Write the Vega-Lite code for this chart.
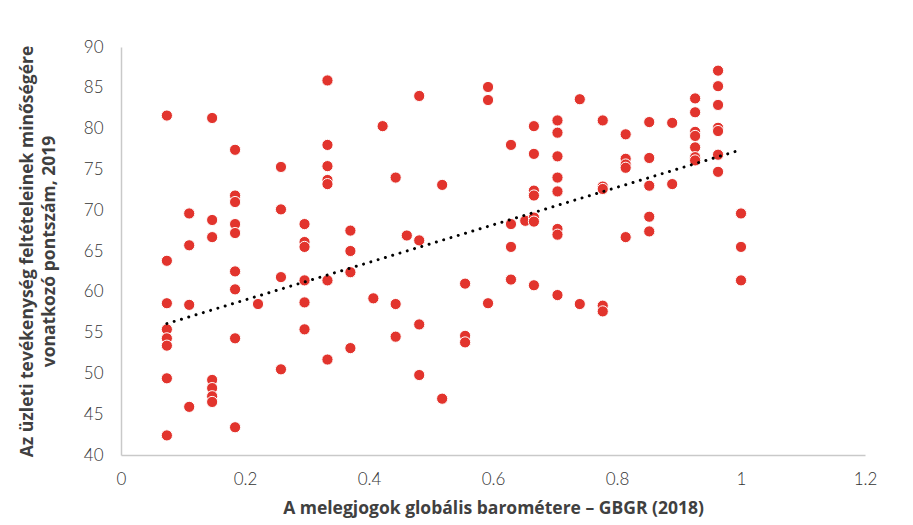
{
  "$schema": "https://vega.github.io/schema/vega-lite/v6.json",
  "autosize": {"type": "none"},
  "width": 744,
  "height": 408,
  "padding": {"left": 121, "top": 47, "right": 48, "bottom": 70},
  "background": "white",
  "config": {
    "view": {"stroke": null},
    "axis": {
      "grid": false,
      "ticks": false,
      "domainColor": "#c9c9c9",
      "domainWidth": 1.5,
      "labelFont": "Lato",
      "labelFontWeight": 300,
      "labelFontSize": 17,
      "labelColor": "#333333",
      "titleFont": "Open Sans",
      "titleFontWeight": "bold",
      "titleFontSize": 17.5,
      "titleColor": "#404040"
    }
  },
  "datasets": {
    "points": [
      {"x": 0.074, "y": 81.6}, {"x": 0.074, "y": 63.8}, {"x": 0.074, "y": 58.6}, {"x": 0.074, "y": 55.4}, {"x": 0.074, "y": 54.3}, {"x": 0.074, "y": 53.4}, {"x": 0.074, "y": 49.4}, {"x": 0.074, "y": 42.4},
      {"x": 0.110, "y": 69.6}, {"x": 0.110, "y": 65.7}, {"x": 0.110, "y": 58.4}, {"x": 0.110, "y": 45.9},
      {"x": 0.147, "y": 81.3}, {"x": 0.147, "y": 68.8}, {"x": 0.147, "y": 66.7}, {"x": 0.147, "y": 49.2}, {"x": 0.147, "y": 48.2}, {"x": 0.147, "y": 47.2}, {"x": 0.147, "y": 46.5},
      {"x": 0.184, "y": 77.4}, {"x": 0.184, "y": 71.8}, {"x": 0.184, "y": 71.0}, {"x": 0.184, "y": 68.3}, {"x": 0.184, "y": 67.2}, {"x": 0.184, "y": 62.5}, {"x": 0.184, "y": 60.3}, {"x": 0.184, "y": 54.3}, {"x": 0.184, "y": 43.4},
      {"x": 0.221, "y": 58.5},
      {"x": 0.258, "y": 75.3}, {"x": 0.258, "y": 70.1}, {"x": 0.258, "y": 61.8}, {"x": 0.258, "y": 50.5},
      {"x": 0.296, "y": 68.3}, {"x": 0.296, "y": 66.1}, {"x": 0.296, "y": 65.5}, {"x": 0.296, "y": 61.4}, {"x": 0.296, "y": 58.7}, {"x": 0.296, "y": 55.4},
      {"x": 0.333, "y": 85.9}, {"x": 0.333, "y": 78.0}, {"x": 0.333, "y": 75.4}, {"x": 0.333, "y": 73.7}, {"x": 0.333, "y": 73.2}, {"x": 0.333, "y": 61.4}, {"x": 0.333, "y": 51.7},
      {"x": 0.370, "y": 67.5}, {"x": 0.370, "y": 65.0}, {"x": 0.370, "y": 62.4}, {"x": 0.370, "y": 53.1},
      {"x": 0.407, "y": 59.2},
      {"x": 0.422, "y": 80.3},
      {"x": 0.443, "y": 74.0}, {"x": 0.443, "y": 58.5}, {"x": 0.443, "y": 54.5},
      {"x": 0.461, "y": 66.9},
      {"x": 0.481, "y": 84.0}, {"x": 0.481, "y": 66.3}, {"x": 0.481, "y": 56.0}, {"x": 0.481, "y": 49.8},
      {"x": 0.518, "y": 73.1}, {"x": 0.518, "y": 46.9},
      {"x": 0.555, "y": 61.0}, {"x": 0.555, "y": 54.6}, {"x": 0.555, "y": 53.8},
      {"x": 0.592, "y": 85.1}, {"x": 0.592, "y": 83.5}, {"x": 0.592, "y": 58.6},
      {"x": 0.629, "y": 78.0}, {"x": 0.629, "y": 68.3}, {"x": 0.629, "y": 65.5}, {"x": 0.629, "y": 61.5},
      {"x": 0.652, "y": 68.7},
      {"x": 0.666, "y": 80.3}, {"x": 0.666, "y": 76.9}, {"x": 0.666, "y": 72.4}, {"x": 0.666, "y": 71.8}, {"x": 0.666, "y": 69.1}, {"x": 0.666, "y": 68.6}, {"x": 0.666, "y": 60.8},
      {"x": 0.704, "y": 81.0}, {"x": 0.704, "y": 79.5}, {"x": 0.704, "y": 76.6}, {"x": 0.704, "y": 74.0}, {"x": 0.704, "y": 72.3}, {"x": 0.704, "y": 67.7}, {"x": 0.704, "y": 67.0}, {"x": 0.704, "y": 59.6},
      {"x": 0.740, "y": 83.6}, {"x": 0.740, "y": 58.5},
      {"x": 0.777, "y": 81.0}, {"x": 0.777, "y": 72.9}, {"x": 0.777, "y": 72.6}, {"x": 0.777, "y": 58.3}, {"x": 0.777, "y": 57.6},
      {"x": 0.814, "y": 79.3}, {"x": 0.814, "y": 76.3}, {"x": 0.814, "y": 75.6}, {"x": 0.814, "y": 75.2}, {"x": 0.814, "y": 66.7},
      {"x": 0.852, "y": 80.8}, {"x": 0.852, "y": 76.4}, {"x": 0.852, "y": 73.0}, {"x": 0.852, "y": 69.2}, {"x": 0.852, "y": 67.4},
      {"x": 0.889, "y": 80.7}, {"x": 0.889, "y": 73.2},
      {"x": 0.926, "y": 83.7}, {"x": 0.926, "y": 82.0}, {"x": 0.926, "y": 79.6}, {"x": 0.926, "y": 79.1}, {"x": 0.926, "y": 77.7}, {"x": 0.926, "y": 76.5}, {"x": 0.926, "y": 76.1},
      {"x": 0.963, "y": 87.1}, {"x": 0.963, "y": 85.2}, {"x": 0.963, "y": 82.9}, {"x": 0.963, "y": 80.1}, {"x": 0.963, "y": 79.7}, {"x": 0.963, "y": 76.8}, {"x": 0.963, "y": 74.7},
      {"x": 1.0, "y": 69.6}, {"x": 1.0, "y": 65.5}, {"x": 1.0, "y": 61.4}
    ],
    "trend": [
      {"x": 0.074, "y": 56.1},
      {"x": 1.0, "y": 77.4}
    ]
  },
  "layer": [
    {
      "data": {"name": "points"},
      "mark": {"type": "point", "shape": "circle", "filled": true, "fill": "#E2342D", "stroke": "white", "strokeWidth": 1, "size": 125, "opacity": 1},
      "encoding": {
        "x": {
          "field": "x", "type": "quantitative",
          "scale": {"domain": [0, 1.2], "nice": false, "zero": false},
          "axis": {"values": [0, 0.2, 0.4, 0.6, 0.8, 1, 1.2], "format": "~g", "labelPadding": 16, "title": "A melegjogok globális barométere – GBGR (2018)", "titlePadding": 12, "labelFlush": false}
        },
        "y": {
          "field": "y", "type": "quantitative",
          "scale": {"domain": [40, 90], "nice": false, "zero": false},
          "axis": {"values": [40, 45, 50, 55, 60, 65, 70, 75, 80, 85, 90], "labelPadding": 18, "title": ["Az üzleti tevékenység feltételeinek minőségére", "vonatkozó pontszám, 2019"], "titlePadding": 25, "titleLineHeight": 22, "labelFlush": false}
        }
      }
    },
    {
      "data": {"name": "trend"},
      "mark": {"type": "line", "color": "black", "strokeWidth": 3, "strokeCap": "round", "strokeDash": [0.01, 7.6]},
      "encoding": {
        "x": {"field": "x", "type": "quantitative"},
        "y": {"field": "y", "type": "quantitative"}
      }
    }
  ]
}
